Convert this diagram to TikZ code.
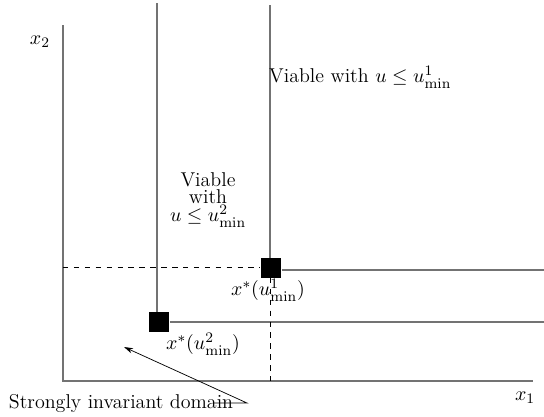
\documentclass[tikz,border=0pt]{standalone}
\usetikzlibrary{arrows.meta}
\DeclareMathSizes{11}{11}{8.3}{6.5}
\begin{document}
\begin{tikzpicture}[x=0.55pt,y=-0.55pt,
  bnd/.style={draw=black!55,line width=0.7pt},
  dsh/.style={draw=black,dashed,line width=0.5pt},
  sq/.style={fill=black,minimum width=11.5pt,minimum height=10.5pt,inner sep=0pt},
  lbl/.style={inner sep=1pt,font=\fontsize{11}{13}\selectfont}]
\useasboundingbox (0,0) rectangle (544,416);
% axes
\coordinate (o) at (63,381);
\coordinate (ytop) at (63,25);
\coordinate (xend) at (533,381);
\draw[bnd] (ytop) -- (o) -- (xend);
\node[lbl] (x2) at (40,42) {$x_2$};
\node[lbl] (x1) at (525,398) {$x_1$};
% squares
\node[sq] (s1) at (271,268) {};
\node[sq] (s2) at (159,322) {};
% top coordinates
\coordinate (t1) at (270,5);
\coordinate (t2) at (157,3);
\coordinate (r1) at (544,270);
\coordinate (r2) at (544,322);
\coordinate (l1) at (63,267);
\coordinate (b1) at (270,381);
\draw[bnd] (t1) -- (s1.north -| t1);
\draw[bnd] (t2) -- (s2.north -| t2);
\draw[bnd] (s1.east |- r1) -- (r1);
\draw[bnd] (s2.east) -- (r2);
\draw[dsh] (l1) -- (s1.west |- l1);
\draw[dsh] (s1.south -| b1) -- (b1);
% labels
\node[lbl] (lx1) at (268,290) {$x^*(u^1_{\min})$};
\node[lbl] (lx2) at (203,344) {$x^*(u^2_{\min})$};
\node[lbl,anchor=west] (v1) at (267,77) {Viable with $u\leq u^1_{\min}$};
\node[lbl,align=center,font={\fontsize{11}{9}\selectfont}] (v2) at (208,200) {Viable\\with\\$u\leq u^2_{\min}$};
\node[lbl] (sid) at (121,403) {Strongly invariant domain};
\coordinate (as) at (213,403);
\coordinate (ae) at (247,403);
\coordinate (at) at (124,347);
\draw[-{Stealth[length=5pt,width=3pt]},line width=0.4pt] (as) -- (ae) -- (at);
\end{tikzpicture}
\end{document}
